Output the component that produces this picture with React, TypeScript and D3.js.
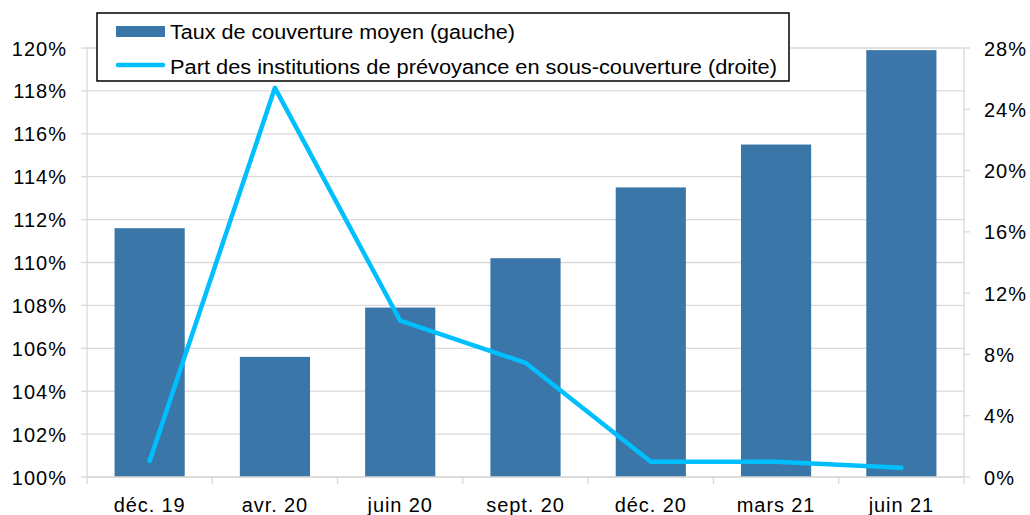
import React from "react";
import * as d3 from "d3";

const categories = ["déc. 19", "avr. 20", "juin 20", "sept. 20", "déc. 20", "mars 21", "juin 21"];
const coverageRatio = [111.6, 105.6, 107.9, 110.2, 113.5, 115.5, 119.9];
const underfundedShare = [1.05, 25.4, 10.2, 7.45, 1.0, 1.0, 0.6];
const leftTicks = [100, 102, 104, 106, 108, 110, 112, 114, 116, 118, 120];
const rightTicks = [0, 4, 8, 12, 16, 20, 24, 28];
const legendLabels = [
  "Taux de couverture moyen (gauche)",
  "Part des institutions de prévoyance en sous-couverture (droite)",
];

const W = 1030;
const H = 515;
const X0 = 87;
const X1 = 964;
const Y0 = 477;
const Y1 = 48;
const BAR = "#3a76a7";
const LINE = "#00bfff";
const GRID = "#d9d9d9";
const FONT = "'Liberation Sans', Arial, sans-serif";

export default function App() {
  const x = d3.scaleBand<string>().domain(categories).range([X0, X1]).paddingInner(0.44).paddingOuter(0.22);
  const band = d3.scaleBand<string>().domain(categories).range([X0, X1]);
  const yL = d3.scaleLinear().domain([100, 120]).range([Y0, Y1]);
  const yR = d3.scaleLinear().domain([0, 28]).range([Y0, Y1]);
  const line = d3
    .line<number>()
    .x((_, i) => (band(categories[i]) as number) + band.bandwidth() / 2)
    .y((d) => yR(d));

  return (
    <svg width={W} height={H} style={{ position: "absolute", left: 0, top: 0, background: "#fff" }}>
      {leftTicks.map((t) => (
        <g key={"gl" + t}>
          <line x1={X0} x2={X1} y1={yL(t)} y2={yL(t)} stroke={GRID} strokeWidth={1.3} />
          <line x1={X0 - 6} x2={X0} y1={yL(t)} y2={yL(t)} stroke={GRID} strokeWidth={1.3} />
          <text x={67} y={yL(t) + 7.5} textAnchor="end" fontFamily={FONT} fontSize={20} fill="#000" letterSpacing={1}>
            {t}%
          </text>
        </g>
      ))}
      {rightTicks.map((t) => (
        <g key={"gr" + t}>
          <line x1={X1} x2={X1 + 6} y1={yR(t)} y2={yR(t)} stroke={GRID} strokeWidth={1.3} />
          <text x={984} y={yR(t) + 7.5} textAnchor="start" fontFamily={FONT} fontSize={20} fill="#000" letterSpacing={1}>
            {t}%
          </text>
        </g>
      ))}
      <line x1={X0} x2={X0} y1={Y1} y2={Y0} stroke={GRID} strokeWidth={1.3} />
      <line x1={X1} x2={X1} y1={Y1} y2={Y0} stroke={GRID} strokeWidth={1.3} />
      {categories.map((c, i) => (
        <rect
          key={"b" + c}
          x={x(c)}
          y={yL(coverageRatio[i])}
          width={x.bandwidth()}
          height={Y0 - yL(coverageRatio[i])}
          fill={BAR}
        />
      ))}
      <line x1={X0} x2={X1} y1={Y0} y2={Y0} stroke={GRID} strokeWidth={1.5} />
      {[...categories.map((c) => band(c) as number), X1].map((bx, i) => (
        <line key={"t" + i} x1={bx} x2={bx} y1={Y0} y2={Y0 + 7} stroke={GRID} strokeWidth={1.3} />
      ))}
      {categories.map((c) => (
        <text
          key={"c" + c}
          x={(band(c) as number) + band.bandwidth() / 2}
          y={512}
          textAnchor="middle"
          fontFamily={FONT}
          fontSize={20}
          fill="#000"
          letterSpacing={0.9}
        >
          {c}
        </text>
      ))}
      <path d={line(underfundedShare) || ""} fill="none" stroke={LINE} strokeWidth={4.5} strokeLinejoin="round" strokeLinecap="round" />
      <g>
        <rect x={97} y={13} width={692} height={68} fill="#fff" stroke="#000" strokeWidth={1.5} />
        <rect x={116} y={26} width={49} height={11} fill={BAR} />
        <line x1={118} x2={163} y1={65} y2={65} stroke={LINE} strokeWidth={4.5} strokeLinecap="round" />
        <text x={170} y={39} fontFamily={FONT} fontSize={20} fill="#000" textLength={345} lengthAdjust="spacingAndGlyphs">
          {legendLabels[0]}
        </text>
        <text x={170} y={74} fontFamily={FONT} fontSize={20} fill="#000" textLength={607} lengthAdjust="spacingAndGlyphs">
          {legendLabels[1]}
        </text>
      </g>
    </svg>
  );
}
